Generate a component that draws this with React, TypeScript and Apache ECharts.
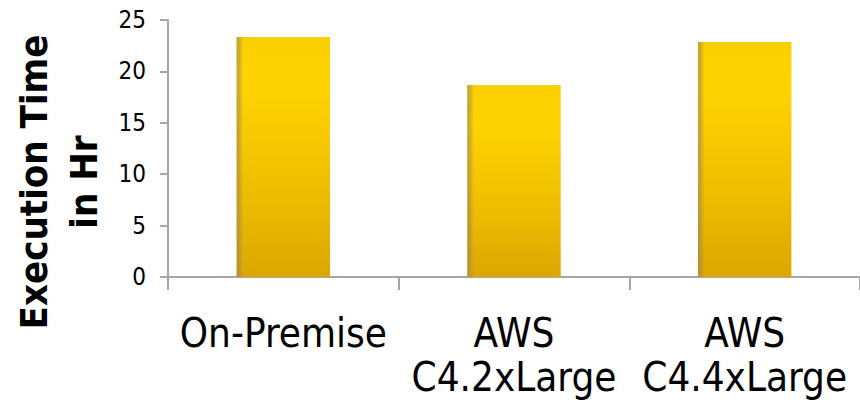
import React, { useEffect, useRef } from "react";
import * as echarts from "echarts";

const categories = ["On-Premise", "AWS\nC4.2xLarge", "AWS\nC4.4xLarge"];
const executionHours = [23.35, 18.67, 22.86];
const yTicks = { min: 0, max: 25, interval: 5 };
const titleLines = ["Execution Time", "in Hr"];

export default function App() {
  const ref = useRef<HTMLDivElement>(null);
  useEffect(() => {
    if (!ref.current) return;
    const chart = echarts.init(ref.current, null, { renderer: "svg" });
    const axisColor = "#a6a6a6";
    const font = "'DejaVu Sans Condensed', 'DejaVu Sans', sans-serif";
    chart.setOption({
      animation: false,
      backgroundColor: "#ffffff",
      grid: { left: 168, top: 20, width: 702, height: 257, containLabel: false },
      xAxis: {
        type: "category",
        data: categories,
        boundaryGap: true,
        axisLine: { show: true, lineStyle: { color: axisColor, width: 2 } },
        axisTick: { show: true, alignWithLabel: false, length: 13, lineStyle: { color: axisColor, width: 2 } },
        axisLabel: {
          color: "#000",
          fontFamily: font,
          fontSize: 40,
          lineHeight: 44,
          margin: 34,
          interval: 0,
        },
      },
      yAxis: {
        type: "value",
        min: yTicks.min,
        max: yTicks.max,
        interval: yTicks.interval,
        axisLine: { show: true, lineStyle: { color: axisColor, width: 2 } },
        axisTick: { show: true, length: 8, lineStyle: { color: axisColor, width: 2 } },
        splitLine: { show: false },
        axisLabel: { color: "#000", fontFamily: font, fontSize: 24, margin: 22 },
      },
      graphic: [
        {
          type: "text",
          x: 34,
          y: 182,
          rotation: Math.PI / 2,
          style: {
            text: titleLines[0],
            font: `bold 38px ${font}`,
            fill: "#000",
            align: "center",
            verticalAlign: "middle",
          },
        },
        {
          type: "text",
          x: 84,
          y: 182,
          rotation: Math.PI / 2,
          style: {
            text: titleLines[1],
            font: `bold 38px ${font}`,
            fill: "#000",
            align: "center",
            verticalAlign: "middle",
          },
        },
      ],
      series: [
        {
          type: "bar",
          data: executionHours,
          barWidth: "40.5%",
          itemStyle: {
            color: new echarts.graphic.LinearGradient(0, 0, 0, 1, [
              { offset: 0, color: "#fbd000" },
              { offset: 0.2, color: "#fed400" },
              { offset: 0.6, color: "#f0c000" },
              { offset: 1, color: "#dba700" },
            ]),
          },
        },
        {
          type: "bar",
          data: executionHours,
          barWidth: "40.5%",
          barGap: "-100%",
          silent: true,
          itemStyle: {
            color: new echarts.graphic.LinearGradient(0, 0, 1, 0, [
              { offset: 0, color: "rgba(150,130,90,0.6)" },
              { offset: 0.03, color: "rgba(150,130,90,0.45)" },
              { offset: 0.07, color: "rgba(150,130,90,0)" },
              { offset: 1, color: "rgba(150,130,90,0)" },
            ]),
          },
        },
      ],
    });
    return () => chart.dispose();
  }, []);
  return (
    <div
      ref={ref}
      style={{ position: "fixed", left: 0, top: 0, width: 860, height: 405 }}
    />
  );
}
